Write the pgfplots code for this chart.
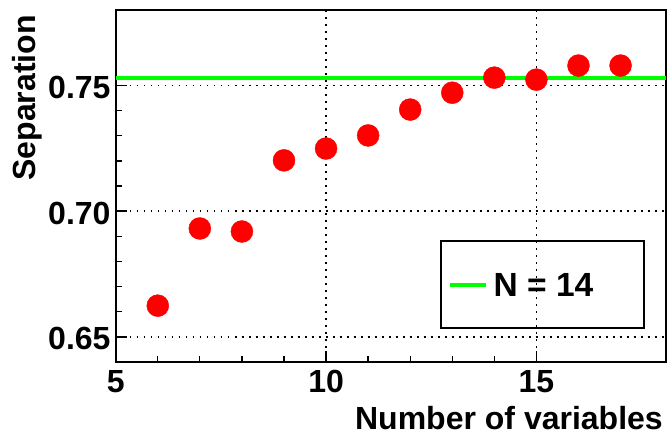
\documentclass[border=0pt]{standalone}
\usepackage{fontspec}
\setmainfont{Liberation Sans}
\usepackage{pgfplots}
\pgfplotsset{compat=1.18}
\definecolor{rootgreen}{HTML}{00FF00}
\definecolor{rootred}{HTML}{FF0000}
\newcommand{\bigbf}{\bfseries\fontsize{32bp}{38bp}\selectfont}
\newcommand{\legbf}{\bfseries\fontsize{33.5bp}{40bp}\selectfont}

\begin{document}
\begin{tikzpicture}
\begin{axis}[
  scale only axis,
  width=550.3bp, height=352bp,
  xmin=5, xmax=18.08,
  ymin=0.64, ymax=0.78,
  xtick={5,10,15}, ytick={0.65,0.70,0.75},
  minor x tick num=4, minor y tick num=4,
  tick align=inside, xtick pos=bottom, ytick pos=left,
  major tick length=11bp, minor tick length=6bp,
  tick style={black, line width=1.3bp},
  axis line style={line width=2bp},
  grid=major,
  major grid style={black, line width=1.8bp, dash pattern=on 1.8bp off 5.2bp},
  /pgf/number format/assume math mode=true,
  ticklabel style={font=\bigbf, inner sep=0pt},
  yticklabel style={xshift=-5bp, yshift=-2bp, /pgf/number format/fixed, /pgf/number format/fixed zerofill, /pgf/number format/precision=2},
  xticklabel style={yshift=-8bp},
  xlabel={Number of variables},
  ylabel={Separation},
  label style={font=\bigbf, inner sep=0pt},
  xlabel style={at={([xshift=-3bp,yshift=-44bp]rel axis cs:1,0)}, anchor=north east},
  ylabel style={at={([xshift=-104bp,yshift=-5bp]rel axis cs:0,1)}, anchor=north east},
  legend style={at={(rel axis cs:0.6039,0.2188)}, anchor=west, draw=none, fill=none,
    inner sep=0pt, font=\legbf, nodes={inner sep=0pt, text depth=0pt}},
  legend image code/.code={\draw[#1] (0bp,0bp) -- (36bp,0bp);},
  clip=false,
]
\addplot[only marks, mark=*, mark size=11bp, rootred, forget plot] coordinates {
  (6,0.6624) (7,0.6931) (8,0.6919) (9,0.7202) (10,0.7249) (11,0.7301)
  (12,0.7404) (13,0.7471) (14,0.7531) (15,0.7523) (16,0.7579) (17,0.7579)};
\addplot[rootgreen, line width=3.5bp] coordinates {(5,0.7529) (18.08,0.7529)};
\addlegendentry{\hspace*{6bp}N = 14}
\draw[black, line width=1.3bp] (rel axis cs:0.5911,0.0966) rectangle (rel axis cs:0.9600,0.3438);
\end{axis}
\pgfresetboundingbox
\path[use as bounding box] (-115.7bp,-74bp) rectangle (552.3bp,362bp);
\end{tikzpicture}
\end{document}
